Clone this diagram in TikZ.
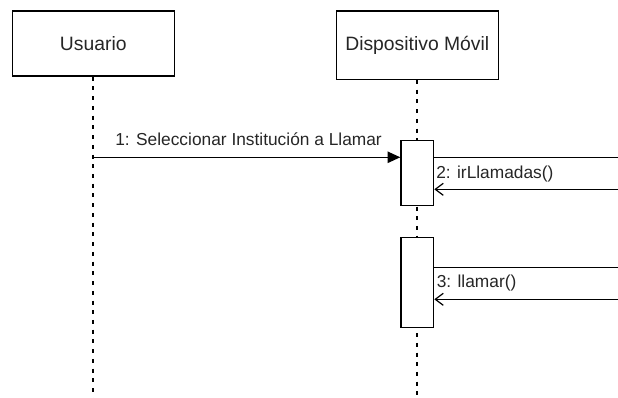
\documentclass[tikz,border=0pt]{standalone}
\usepackage{fontspec}
\setmainfont{Liberation Sans}
\usetikzlibrary{arrows.meta}
\begin{document}
\begin{tikzpicture}[x=0.75pt,y=-0.75pt,
  actor/.style={draw=black,line width=1pt,fill=white,rectangle,inner sep=0pt,
    minimum width=121.7pt,font=\fontsize{14.5}{16}\selectfont,text=black!85},
  activation/.style={draw=black,line width=1pt,fill=white,rectangle,inner sep=0pt,
    minimum width=24.5pt},
  lifeline/.style={line width=1.4pt,dash pattern=on 3pt off 4.3pt},
  msgline/.style={line width=1pt},
  sync/.style={msgline,-{Triangle[length=9.5pt,width=8.5pt]}},
  reply/.style={msgline,-{Straight Barb[length=6pt,width=9pt,line width=0.9pt]}},
  msglabel/.style={font=\fontsize{13}{15}\selectfont,text=black!85,inner sep=0pt}]
  \useasboundingbox (0,0) rectangle (618,398);

  % lifelines (drawn first, covered by the boxes)
  \coordinate (uEnd) at (93.3,398);
  \coordinate (dEnd) at (417.3,398);
  \node[actor,minimum height=48.75pt] (usr) at (93.3,43.5) {Usuario};
  \node[actor,minimum height=51.2pt] (dev) at (417.3,45.2) {Dispositivo Móvil};
  \draw[lifeline] (usr.south) -- (uEnd);
  \draw[lifeline] (dev.south) -- (dEnd);

  % activation bars
  \node[activation,minimum height=48.75pt] (act1) at (417.3,173.2) {};
  \node[activation,minimum height=67.5pt] (act2) at (417.3,282.3) {};

  % free ends of the self calls at the right border
  \coordinate (o1) at (618,157.3);
  \coordinate (r1) at (618,189.3);
  \coordinate (o2) at (618,267.3);
  \coordinate (r2) at (618,299.3);

  % 1: message from the user
  \draw[sync] (usr.south |- o1) -- (act1.west |- o1);
  \node[msglabel,anchor=base west] (l1) at (115,146) {1: Seleccionar Institución a Llamar};

  % 2: irLlamadas()
  \draw[msgline] (act1.east |- o1) -- (o1);
  \draw[reply] (r1) -- (act1.east |- r1);
  \node[msglabel,anchor=west] (l2) at (436,174.5) {2: irLlamadas()};

  % 3: llamar()
  \draw[msgline] (act2.east |- o2) -- (o2);
  \draw[reply] (r2) -- (act2.east |- r2);
  \node[msglabel,anchor=west] (l3) at (436.5,283.5) {3: llamar()};
\end{tikzpicture}
\end{document}
